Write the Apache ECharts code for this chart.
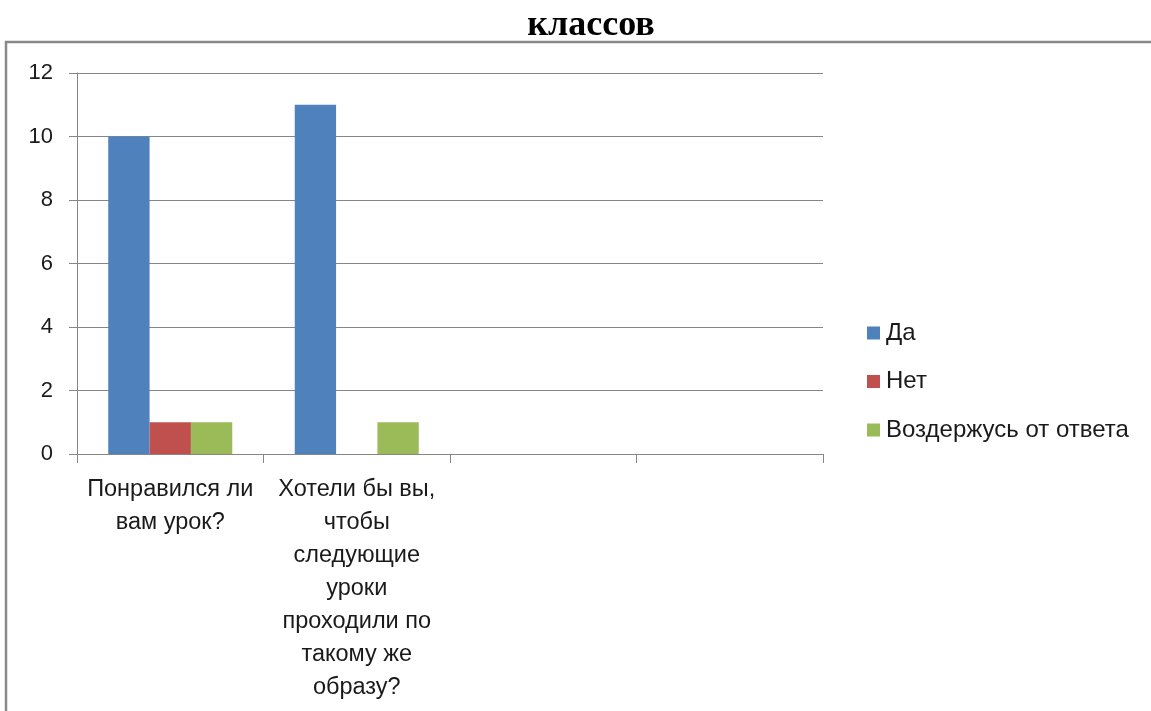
<!DOCTYPE html>
<html><head><meta charset="utf-8">
<script src="https://cdn.jsdelivr.net/npm/echarts@6/dist/echarts.min.js"></script>
<style>html,body{margin:0;padding:0;background:#fff}#c{width:1151px;height:711px}</style>
</head><body><div id="c"></div>
<script>
const titleText = 'классов';
const categories = ['Понравился ли\nвам урок?', 'Хотели бы вы,\nчтобы\nследующие\nуроки\nпроходили по\nтакому же\nобразу?', '', ''];
const seriesNames = ['Да', 'Нет', 'Воздержусь от ответа'];
const daValues = [10, 11, null, null];
const netValues = [1, 0, null, null];
const abstainValues = [1, 1, null, null];
const yTicks = [0, 2, 4, 6, 8, 10, 12];
const colors = ['#4F81BD', '#C0504D', '#9BBB59'];

const font = 'Liberation Sans';
const chart = echarts.init(document.getElementById('c'));
const mk = (name, data, i) => ({
  name, type: 'bar', data, barGap: '0%', barCategoryGap: '33.5%',
  itemStyle: { color: colors[i] }, animation: false
});
chart.setOption({
  animation: false,
  title: { text: titleText, left: 586, top: 3, textAlign: 'center',
    textStyle: { fontFamily: 'Liberation Serif', fontWeight: 'bold', fontSize: 36, color: '#000' } },
  graphic: [{ type: 'rect', shape: { x: 6, y: 42, width: 1200, height: 720 },
    style: { fill: 'none', stroke: '#888', lineWidth: 2.5 } }],
  legend: { orient: 'vertical', left: 862, top: 316, itemGap: 24.5, itemWidth: 13, itemHeight: 13,
    icon: 'rect', data: seriesNames,
    textStyle: { fontFamily: font, fontSize: 24, color: '#1a1a1a', padding: [0, 0, 0, 1] } },
  grid: { left: 77, right: 1151 - 823, top: 73, bottom: 711 - 454, containLabel: false },
  xAxis: { type: 'category', data: categories,
    axisLine: { lineStyle: { color: '#868686' } },
    axisTick: { show: true, length: 9, lineStyle: { color: '#868686' } },
    axisLabel: { interval: 0, fontFamily: font, fontSize: 23.5, color: '#1a1a1a', lineHeight: 33, margin: 19 } },
  yAxis: { type: 'value', min: 0, max: 12, interval: 2,
    axisLine: { show: true, lineStyle: { color: '#868686' } },
    axisTick: { show: true, length: 8, lineStyle: { color: '#868686' } },
    splitLine: { lineStyle: { color: '#868686' } },
    axisLabel: { fontFamily: font, fontSize: 22, color: '#1a1a1a', margin: 24,
      formatter: v => yTicks.includes(v) ? String(v) : '' } },
  series: [mk(seriesNames[0], daValues, 0), mk(seriesNames[1], netValues, 1), mk(seriesNames[2], abstainValues, 2)]
});
</script></body></html>
